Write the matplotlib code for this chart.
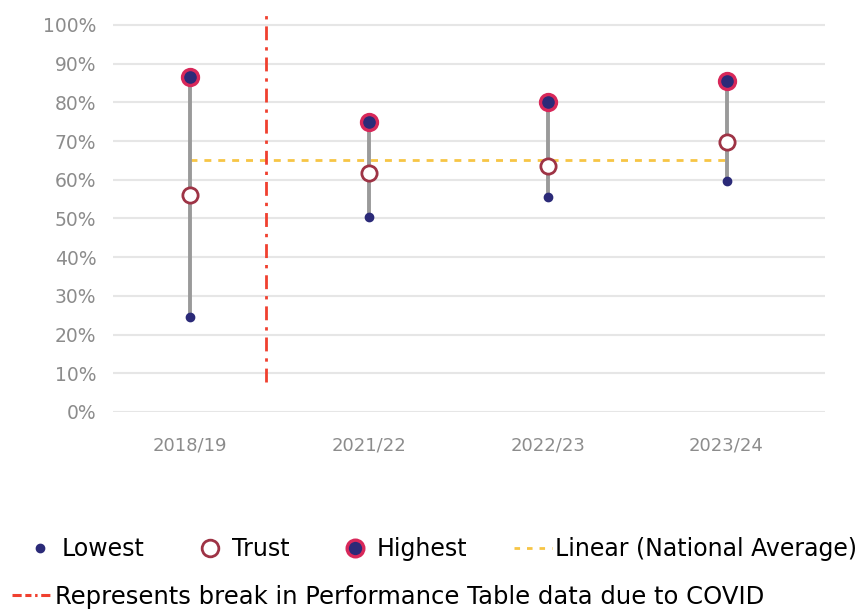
import matplotlib.pyplot as plt
from matplotlib.lines import Line2D

# data
years = ["2018/19", "2021/22", "2022/23", "2023/24"]
lowest = [0.245, 0.503, 0.555, 0.597]
trust = [0.56, 0.618, 0.635, 0.698]
highest = [0.866, 0.75, 0.80, 0.855]
national_avg = 0.65
covid_break = 0.425

plt.rcParams['font.family'] = ['DejaVu Sans']

navy = "#2b2a78"
crimson = "#d8285a"
trust_edge = "#9e3345"
grey = "#9a9a9a"
yellow = "#f7c545"
red = "#f0402f"
tick_col = "#8c8c8c"

fig = plt.figure(figsize=(8.62, 6.10), dpi=100)
ax = fig.add_axes([0.131, 0.3246, 0.826, 0.66])

x = list(range(len(years)))

for i in x:
    ax.plot([i, i], [lowest[i], highest[i]], color=grey, lw=2.8, zorder=2)

ax.plot([x[0], x[-1]], [national_avg, national_avg], color=yellow, lw=2,
        ls=(0, (2.5, 2.5)), zorder=1)
ax.plot(x, lowest, ls="none", marker="o", ms=6, color=navy, zorder=3)
ax.plot(x, trust, ls="none", marker="o", ms=11, mfc="white", mec=trust_edge,
        mew=2, zorder=3)
ax.plot(x, highest, ls="none", marker="o", ms=11.5, mfc=navy, mec=crimson,
        mew=2.4, zorder=3)

ax.plot([covid_break, covid_break], [0.078, 1.034], color=red, lw=2,
        ls=(0, (5, 2.5, 1.2, 2.5)), zorder=1)

ax.set_xlim(-0.43, 3.55)
ax.set_ylim(0, 1.04)
ax.set_yticks([i / 10 for i in range(11)])
ax.set_yticklabels([f"{i * 10}%" for i in range(11)])
ax.set_xticks(x)
ax.set_xticklabels(years)
ax.tick_params(axis="both", length=0, labelsize=13, colors=tick_col)
ax.tick_params(axis="y", labelsize=13.5, pad=12)
ax.tick_params(axis="x", pad=18)
ax.grid(axis="y", color="#e6e6e6", lw=1.5)
ax.set_axisbelow(True)
for s in ax.spines.values():
    s.set_visible(False)

handles = [
    Line2D([], [], ls="none", marker="o", ms=6, color=navy),
    Line2D([], [], ls="none", marker="o", ms=12, mfc="white", mec=trust_edge, mew=2),
    Line2D([], [], ls="none", marker="o", ms=12, mfc=navy, mec=crimson, mew=2.4),
    Line2D([], [], color=yellow, lw=2, ls=(0, (2, 2.5))),
]
labels = ["Lowest", "Trust", "Highest", "Linear (National Average)"]
fig.legend(handles, labels, loc="center left", bbox_to_anchor=(0.0, 0.1), ncol=4,
           frameon=False, fontsize=17, handlelength=1.6, handletextpad=0.1,
           columnspacing=2.0)

h2 = [Line2D([], [], color=red, lw=2.2, ls=(0, (3, 1.2, 2, 1.2, 0.8, 1.2)))]
fig.legend(h2, ["Represents break in Performance Table data due to COVID"],
           loc="center left", bbox_to_anchor=(-0.012, 0.022), frameon=False,
           fontsize=17.5, handlelength=1.6, handletextpad=0.2)

fig.savefig("out.png", dpi=100, facecolor="white")
